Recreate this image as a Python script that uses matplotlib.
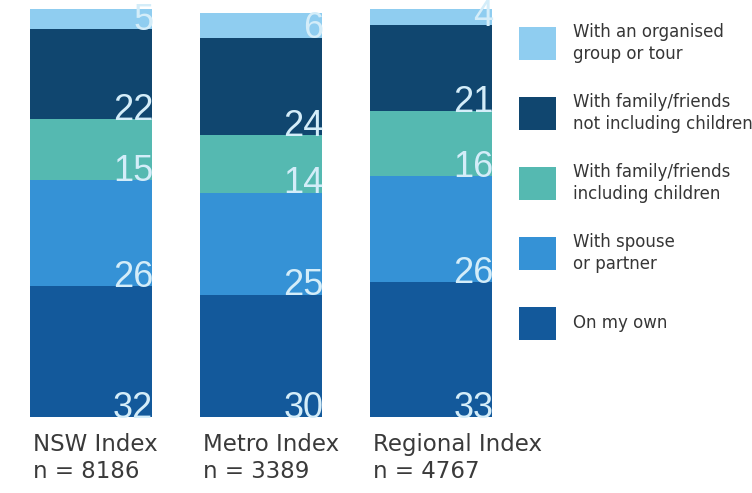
import matplotlib
matplotlib.use("Agg")
import matplotlib.pyplot as plt
from matplotlib.patches import Rectangle
import numpy as np

# travel party share (%), stacked from the bottom up
regions = ["NSW Index", "Metro Index", "Regional Index"]
sample_sizes = ["n = 8186", "n = 3389", "n = 4767"]
on_my_own = [32, 30, 33]
spouse_partner = [26, 25, 26]
family_with_kids = [15, 14, 16]
family_no_kids = [22, 24, 21]
organised_group = [5, 6, 4]

series = [
    ("On my own", on_my_own, "#13599b"),
    ("With spouse\nor partner", spouse_partner, "#3592d6"),
    ("With family/friends\nincluding children", family_with_kids, "#55b9b1"),
    ("With family/friends\nnot including children", family_no_kids, "#10466f"),
    ("With an organised\ngroup or tour", organised_group, "#8fcdf0"),
]

W, H = 752, 493
fig = plt.figure(figsize=(W / 100, H / 100), dpi=100)
ax = fig.add_axes([30 / W, 76 / H, 462 / W, 408 / H])

x = np.arange(len(regions))
width = 0.718
bottom = np.zeros(len(regions))
for name, vals, col in series:
    vals = np.array(vals, dtype=float)
    ax.bar(x, vals, width, bottom=bottom, color=col, label=name)
    for xi, b, v in zip(x, bottom, vals):
        ax.text(xi + width / 2 + 0.008, b - 0.2, f"{int(v)}", ha="right", va="baseline",
                fontsize=26, color="#d4edf9", family="Liberation Sans")
    bottom += vals

ax.set_xlim(-0.359, 2.359)
ax.set_ylim(0, 100)
ax.axis("off")

for xi, reg, n in zip(x, regions, sample_sizes):
    ax.text(xi - width / 2 + 0.02, -4.0, f"{reg}\n{n}", ha="left", va="top",
            fontsize=16.5, color="#3a3a3a", linespacing=1.22)

# legend drawn by hand so every entry gets the same row height
for i, (name, _, col) in enumerate(reversed(series)):
    yc = 1 - (43 + 70 * i) / H
    fig.patches.append(Rectangle((519 / W, yc - 16.5 / H), 37 / W, 33 / H,
                                 facecolor=col, transform=fig.transFigure))
    fig.text(573 / W, yc, name, ha="left", va="center", fontsize=12,
             color="#363636", linespacing=1.3)

fig.savefig("out.png", dpi=100)
